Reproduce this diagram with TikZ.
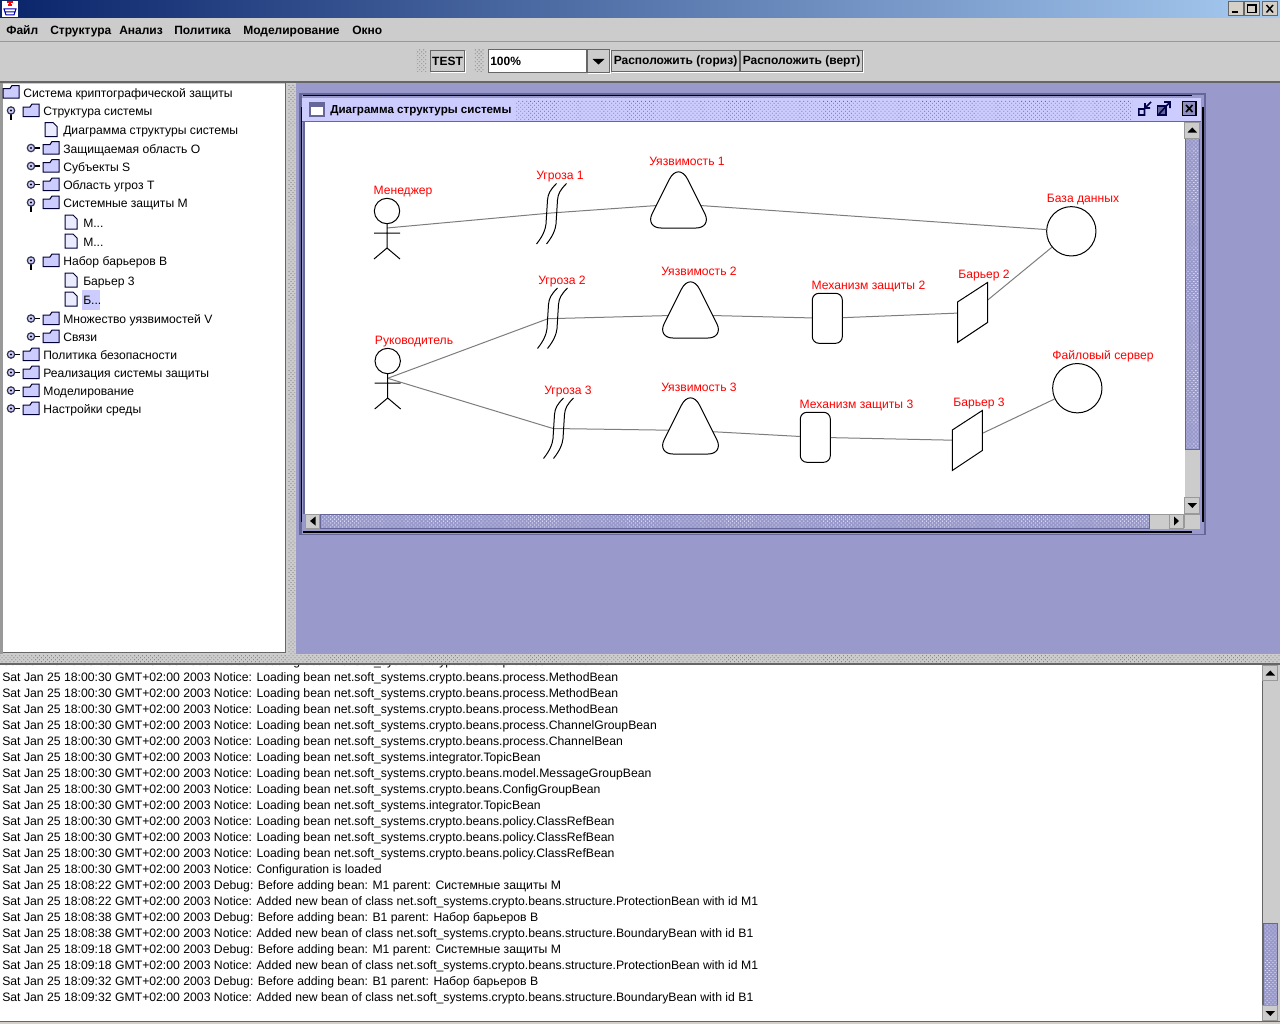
\documentclass[tikz,border=0pt]{standalone}
\usepackage{fontspec}
\setmainfont{Liberation Sans}
\usetikzlibrary{patterns.meta,positioning}

\definecolor{guigray}{HTML}{CCCCCC}
\definecolor{guidark}{HTML}{666666}
\definecolor{guimid}{HTML}{999999}
\definecolor{deskblue}{HTML}{9999CC}
\definecolor{framedark}{HTML}{666699}
\definecolor{titlelight}{HTML}{CCCCFF}
\definecolor{winbtn}{HTML}{D4D0C8}
\definecolor{capleft}{HTML}{0A246A}
\definecolor{capright}{HTML}{A6CAF0}

\tikzset{
	guitext/.style={font=\fontsize{9.1}{11}\selectfont, inner sep=0pt, anchor=base west, yshift=-3.8pt},
	boldtext/.style={font=\fontsize{9}{11}\selectfont\bfseries, inner sep=0pt, anchor=base west, yshift=-3.6pt},
	logtext/.style={font=\fontsize{9.17}{11}\selectfont, inner sep=0pt, anchor=base west, yshift=-3.1pt},
	redlabel/.style={font=\fontsize{9.1}{11}\selectfont, inner sep=0pt, anchor=base, yshift=-4pt, text=red},
	metalbtn/.style={draw=guidark, fill=guigray, line width=.75pt, inner sep=0pt, font=\fontsize{9}{11}\selectfont\bfseries,
		preaction={draw=white, line width=.75pt, transform canvas={xshift=.75pt, yshift=-.75pt}}},
	scrollbtn/.style={draw=guimid, fill=guigray, line width=.75pt},
	dither/.style 2 args={preaction={fill=#1}, pattern={Dots[distance=2.1pt, radius=.42pt, angle=45]}, pattern color=#2},
	shapeline/.style={draw=black, line width=.75pt},
	linkline/.style={draw=guidark!85, line width=.75pt},
	dbcircle/.style={shapeline, circle, inner sep=0pt, minimum size=37pt},
	mechbox/.style={shapeline, rectangle, rounded corners=5pt, inner sep=0pt, minimum width=22.5pt, minimum height=37.5pt},
	pics/actor/.style={code={
		\draw[shapeline] (0,-17) circle [radius=12.7];
		\draw[shapeline] (0,-4.3) -- (0,20) (-13,5) -- (13,5) (-13,31) -- (0,20) -- (13,31);
	}},
	pics/threat/.style={code={
		\foreach \dx in {-5,5}
			\draw[shapeline, xshift=\dx*.75pt] (10.5,-30.5) .. controls (4,-24) and (2,-20) .. (1.5,-14) -- (0,10) .. controls (-.5,15) and (-3,22) .. (-9.5,30);
	}},
	pics/vuln/.style={code={
		\draw[shapeline, fill=white] (0,24) [rounded corners=12pt] -- (33.5,24) [rounded corners=15.5pt] -- (0,-43) [rounded corners=12pt] -- (-33.5,24) [sharp corners] -- cycle;
	}},
	pics/barrier/.style={code={
		\draw[shapeline, fill=white] (-15,-10.5) -- (15,-30) -- (15,10) -- (-15,30) -- cycle;
	}},
	pics/folder/.style={code={
		\draw[draw=black!80!blue, fill=titlelight, line width=.75pt] (-8,-3.5) -- (-1,-3.5) -- (1,-6.5) -- (8,-6.5) -- (8,6) -- (-8,6) -- cycle;
	}},
	pics/fileicon/.style={code={
		\draw[draw=black!80!blue, fill=titlelight!40, line width=.75pt] (-6,-7) -- (2,-7) -- (6,-3) -- (6,7) -- (-6,7) -- cycle;
	}},
	pics/hopen/.style={code={
		\draw[draw=black, line width=1.2pt] (0,3) -- (0,9.5);
		\draw[draw=framedark!50!black, fill=titlelight, line width=.9pt] (0,0) circle [radius=3.7];
		\fill[black] (0,0) circle [radius=1.2];
	}},
	pics/hclosed/.style={code={
		\draw[draw=black, line width=1.2pt] (3,0) -- (8.5,0);
		\draw[draw=framedark!50!black, fill=titlelight, line width=.9pt] (0,0) circle [radius=3.7];
		\fill[black] (0,0) circle [radius=1.2];
	}},
}

\begin{document}
\begin{tikzpicture}[x=.75pt, y=-.75pt]
	\useasboundingbox (0,0) rectangle (1280,1024);
	\fill[guigray] (0,0) rectangle (1280,1024);

	% Title bar of the main window
	\shade[left color=capleft, right color=capright] (0,0) rectangle (1280,18);
	\fill[white] (2,1) rectangle (18,17);
	\draw[blue!70!black, line width=.75pt] (4,9) -- (16,9) -- (14,15) -- (6,15) -- cycle (5,12) -- (15,12);
	\draw[red, line width=1pt] (7,2) -- (13,2) (8,5) -- (12,5) (10,1) -- (10,6);
	\foreach \bx in {1228,1244,1262}
		\draw[draw=guidark, fill=winbtn, line width=.75pt] (\bx,2) rectangle ++(15.5,13.5);
	\draw[black, line width=1.5pt] (1232,12.5) -- (1238,12.5);
	\draw[black, line width=1pt] (1247.5,5) rectangle (1256,12.5);
	\draw[black, line width=1.1pt] (1266.5,5) -- (1273,12.5) (1273,5) -- (1266.5,12.5);

	% Menu and tool bar
	\foreach \mx/\mt [count=\mi] in {6/Файл,50/Структура,119/Анализ,174/Политика,243/Моделирование,352/Окно}
		\node[boldtext] (menu\mi) at (\mx,29.5) {\mt};
	\draw[guimid, line width=.75pt] (0,41.5) -- (1280,41.5);
	\fill[dither={guigray}{guidark}] (416,50) rectangle (426,72);
	\fill[dither={guigray}{guidark}] (474,50) rectangle (484,72);
	\node[metalbtn, minimum width=25pt, minimum height=16pt] (testbtn) at (447.5,61) {TEST};
	\node[draw=guidark, fill=white, line width=.75pt, minimum width=73.5pt, minimum height=17.5pt, inner sep=0pt] (zoomfield) at (537.5,61) {};
	\node[boldtext] (zoomtext) at (490,60.5) {100\%};
	\node[metalbtn, minimum width=17pt, minimum height=17.5pt] (zoombtn) at (598.5,61) {};
	\fill[black] (592.5,59) -- (604.5,59) -- (598.5,64.5) -- cycle;
	\node[metalbtn, minimum width=95.5pt, minimum height=16pt] (horizbtn) at (675.5,61) {Расположить (гориз)};
	\node[metalbtn, minimum width=91pt, minimum height=16pt] (vertbtn) at (801.5,61) {Расположить (верт)};
	\draw[guidark, line width=1.5pt] (0,82) -- (1280,82);

	% Tree panel on the left
	\fill[guimid] (0,83) rectangle (3,654);
	\fill[white] (3,83.5) rectangle (285,652.5);
	\draw[guidark, line width=.75pt] (3,652.5) -- (285.5,652.5) -- (285.5,83);
	\fill[dither={guigray}{guidark}] (288,84) rectangle (295,654);
	\fill[titlelight] (82,290) rectangle (100,309.5);
	\foreach \tx/\ty/\tl [count=\ti] in {
		23/92/Система криптографической защиты,
		43/110.5/Структура системы,
		63/129.5/Диаграмма структуры системы,
		63/148/Защищаемая область О,
		63/166/Субъекты S,
		63/184.5/Область угроз T,
		63/202.5/Системные защиты M,
		83/222/{М...},
		83/241/{М...},
		63/260.5/Набор барьеров B,
		83/280/Барьер 3,
		83/299/{Б...},
		63/318.5/Множество уязвимостей V,
		63/336.5/Связи,
		43/354.5/Политика безопасности,
		43/372.5/Реализация системы защиты,
		43/390.5/Моделирование,
		43/408.5/Настройки среды}
		\node[guitext] (tree\ti) at (\tx,\ty) {\tl};
	\foreach \fx/\fy in {11/92,31/110.5,51/148,51/166,51/184.5,51/202.5,51/260.5,51/318.5,51/336.5,31/354.5,31/372.5,31/390.5,31/408.5}
		\pic at (\fx,\fy) {folder};
	\foreach \fx/\fy in {51/129.5,71/222,71/241,71/280,71/299}
		\pic at (\fx,\fy) {fileicon};
	\foreach \hx/\hy in {11/110.5,31/202.5,31/260.5}
		\pic at (\hx,\hy) {hopen};
	\foreach \hx/\hy in {31/148,31/166,31/184.5,31/318.5,31/336.5,11/354.5,11/372.5,11/390.5,11/408.5}
		\pic at (\hx,\hy) {hclosed};

	% Desktop and the inner window
	\fill[deskblue] (296,83) rectangle (1280,654);
	\fill[framedark] (299,93) rectangle (1206,535);
	\fill[deskblue] (302,94.5) rectangle (1204,534);
	\fill[framedark] (303,120) rectangle (305,514);
	\fill[titlelight] (302,97.5) rectangle (1200.5,120.5);
	\fill[white] (305,122) rectangle (1185,514);
	\draw[black, line width=1pt] (303,95.5) -- (1192,95.5) (1203,107) -- (1203,522) (303,532) -- (1192,532) (301.5,107) -- (301.5,522);
	\fill[framedark] (302,120.5) rectangle (1200.5,122);
	\fill[dither={titlelight}{framedark}] (516,100) rectangle (1132,119);
	\draw[draw=framedark, fill=white, line width=1.5pt] (310,102.5) rectangle (324,116);
	\fill[framedark] (310,102.5) rectangle (324,106.5);
	\node[boldtext, font=\fontsize{8.7}{11}\selectfont\bfseries] (wintitle) at (330,108.5) {Диаграмма структуры системы};
	\draw[draw=black!70!blue, line width=1.2pt] (1138.8,109) rectangle (1144.5,115) (1145,108) -- (1151,102) (1145,103) -- (1145,108) -- (1150,108);
	\draw[draw=black!70!blue, fill=framedark, line width=1.2pt] (1157.5,106) rectangle (1166,115);
	\draw[draw=black!70!blue, line width=1.2pt] (1159,114) -- (1170,102) (1164,102) -- (1170,102) -- (1170,108);
	\draw[draw=black, fill=framedark!60!titlelight, line width=1pt] (1182.5,101.5) rectangle (1196,115.5);
	\draw[draw=black, line width=1.2pt] (1186,105) -- (1192.5,112) (1192.5,105) -- (1186,112);

	% Scroll bars of the inner window
	\fill[guigray] (1185,122) rectangle (1200,514);
	\draw[draw=framedark, dither={deskblue}{white}, line width=.75pt] (1185,138) rectangle (1199.5,449);
	\node[scrollbtn, minimum width=11pt, minimum height=12pt, inner sep=0pt] (vscrup) at (1192.3,130) {};
	\fill[black] (1187.5,132.5) -- (1197,132.5) -- (1192.3,127.5) -- cycle;
	\node[scrollbtn, minimum width=11pt, minimum height=11.5pt, inner sep=0pt] (vscrdown) at (1192.3,505.5) {};
	\fill[black] (1187.5,503) -- (1197,503) -- (1192.3,508) -- cycle;
	\fill[guigray] (305,513.5) rectangle (1200,528.5);
	\draw[draw=framedark, dither={deskblue}{white}, line width=.75pt] (320,514) rectangle (1149.5,528);
	\node[scrollbtn, minimum width=11pt, minimum height=10.5pt, inner sep=0pt] (hscrleft) at (312.5,521) {};
	\fill[black] (315.5,516.5) -- (315.5,525.5) -- (310,521) -- cycle;
	\node[scrollbtn, minimum width=11pt, minimum height=10.5pt, inner sep=0pt] (hscrright) at (1176.5,521) {};
	\fill[black] (1174,516.5) -- (1174,525.5) -- (1179,521) -- cycle;
	\draw[guimid, line width=.75pt] (1150,514) -- (1199.5,514) (1184.5,514) -- (1184.5,528);

	% Anchor points of the structure diagram
	\coordinate (manager) at (387,228);
	\coordinate (head) at (387.7,378.3);
	\coordinate (thr1) at (551,213);
	\coordinate (thr2) at (548,318.7);
	\coordinate (thr3) at (553,428.5);
	\coordinate (vul1) at (678.5,204);
	\coordinate (vul2) at (690.5,315);
	\coordinate (vul3) at (690.5,430.5);
	\coordinate (bar2) at (972.5,312.5);
	\coordinate (bar3) at (967.3,440.5);
	\node[mechbox] (mech2) at (827.3,318.3) {};
	\node[mechbox] (mech3) at (815.3,437.3) {};
	\node[dbcircle] (db1) at (1071.3,231.3) {};
	\node[dbcircle] (srv1) at (1077.3,388.2) {};

	% Connectors run behind the shapes
	\draw[linkline] (manager) -- (thr1) -- (vul1) -- (db1);
	\draw[linkline] (head) -- (thr2) -- (vul2) -- (mech2);
	\draw[linkline] (mech2) -- (bar2) -- (db1);
	\draw[linkline] (head) -- (thr3) -- (vul3) -- (mech3);
	\draw[linkline] (mech3) -- (bar3) -- (srv1);

	\pic at (manager) {actor};
	\pic at (387.7,378) {actor};
	\pic at (551,214) {threat};
	\pic at (552,318.5) {threat};
	\pic at (558,428.5) {threat};
	\pic at (678.5,204) {vuln};
	\pic at (690.5,314) {vuln};
	\pic at (690.5,430) {vuln};
	\pic at (bar2) {barrier};
	\pic at (bar3) {barrier};

	% Red captions
	\foreach \lx/\ly/\lt [count=\li] in {
		403/189/Менеджер,
		414/339/Руководитель,
		560/174/Угроза 1,
		562/279/Угроза 2,
		568/389/Угроза 3,
		687/160/Уязвимость 1,
		699/270/Уязвимость 2,
		699/386/Уязвимость 3,
		868.5/284/Механизм защиты 2,
		856.5/403/Механизм защиты 3,
		984/273/Барьер 2,
		979/401/Барьер 3,
		1083/197/База данных,
		1103/354/Файловый сервер}
		\node[redlabel] (cap\li) at (\lx,\ly) {\lt};

	% Splitter and log panel
	\fill[dither={guigray}{guidark}] (0,655) rectangle (1280,663);
	\fill[guidark] (0,663) rectangle (1280,665);
	\fill[white] (0,665) rectangle (1262,1020.5);
	\begin{scope}
		\clip (0,665) rectangle (1262,1020.5);
		\foreach \ly/\lt [count=\li] in {
			661/18:00:30 GMT+02:00 2003 Notice: Loading bean net.soft\_systems.crypto.beans.process.MethodBean,
			677/18:00:30 GMT+02:00 2003 Notice: Loading bean net.soft\_systems.crypto.beans.process.MethodBean,
			693/18:00:30 GMT+02:00 2003 Notice: Loading bean net.soft\_systems.crypto.beans.process.MethodBean,
			709/18:00:30 GMT+02:00 2003 Notice: Loading bean net.soft\_systems.crypto.beans.process.MethodBean,
			725/18:00:30 GMT+02:00 2003 Notice: Loading bean net.soft\_systems.crypto.beans.process.ChannelGroupBean,
			741/18:00:30 GMT+02:00 2003 Notice: Loading bean net.soft\_systems.crypto.beans.process.ChannelBean,
			757/18:00:30 GMT+02:00 2003 Notice: Loading bean net.soft\_systems.integrator.TopicBean,
			773/18:00:30 GMT+02:00 2003 Notice: Loading bean net.soft\_systems.crypto.beans.model.MessageGroupBean,
			789/18:00:30 GMT+02:00 2003 Notice: Loading bean net.soft\_systems.crypto.beans.ConfigGroupBean,
			805/18:00:30 GMT+02:00 2003 Notice: Loading bean net.soft\_systems.integrator.TopicBean,
			821/18:00:30 GMT+02:00 2003 Notice: Loading bean net.soft\_systems.crypto.beans.policy.ClassRefBean,
			837/18:00:30 GMT+02:00 2003 Notice: Loading bean net.soft\_systems.crypto.beans.policy.ClassRefBean,
			853/18:00:30 GMT+02:00 2003 Notice: Loading bean net.soft\_systems.crypto.beans.policy.ClassRefBean,
			869/18:00:30 GMT+02:00 2003 Notice: Configuration is loaded,
			885/18:08:22 GMT+02:00 2003 Debug: Before adding bean: M1 parent: Системные защиты M,
			901/18:08:22 GMT+02:00 2003 Notice: Added new bean of class net.soft\_systems.crypto.beans.structure.ProtectionBean with id M1,
			917/18:08:38 GMT+02:00 2003 Debug: Before adding bean: B1 parent: Набор барьеров B,
			933/18:08:38 GMT+02:00 2003 Notice: Added new bean of class net.soft\_systems.crypto.beans.structure.BoundaryBean with id B1,
			949/18:09:18 GMT+02:00 2003 Debug: Before adding bean: M1 parent: Системные защиты M,
			965/18:09:18 GMT+02:00 2003 Notice: Added new bean of class net.soft\_systems.crypto.beans.structure.ProtectionBean with id M1,
			981/18:09:32 GMT+02:00 2003 Debug: Before adding bean: B1 parent: Набор барьеров B,
			997/18:09:32 GMT+02:00 2003 Notice: Added new bean of class net.soft\_systems.crypto.beans.structure.BoundaryBean with id B1}
			\node[logtext] (log\li) at (2,\ly) {Sat Jan 25 \lt};
	\end{scope}

	% Scroll bar of the log panel
	\draw[guidark, line width=1pt] (1262.5,665) -- (1262.5,1021);
	\draw[draw=framedark, dither={deskblue}{white}, line width=.75pt] (1263,923) rectangle (1277.5,1005);
	\node[scrollbtn, minimum width=11pt, minimum height=11pt, inner sep=0pt] (logup) at (1270.3,673) {};
	\fill[black] (1265.5,675.5) -- (1275,675.5) -- (1270.3,670.5) -- cycle;
	\node[scrollbtn, minimum width=11pt, minimum height=11pt, inner sep=0pt] (logdown) at (1270.3,1013) {};
	\fill[black] (1265.5,1011) -- (1275,1011) -- (1270.3,1016) -- cycle;
	\fill[guidark] (0,1020.5) rectangle (1280,1021.5);
	\fill[winbtn] (0,1021.5) rectangle (1280,1024);
\end{tikzpicture}
\end{document}
